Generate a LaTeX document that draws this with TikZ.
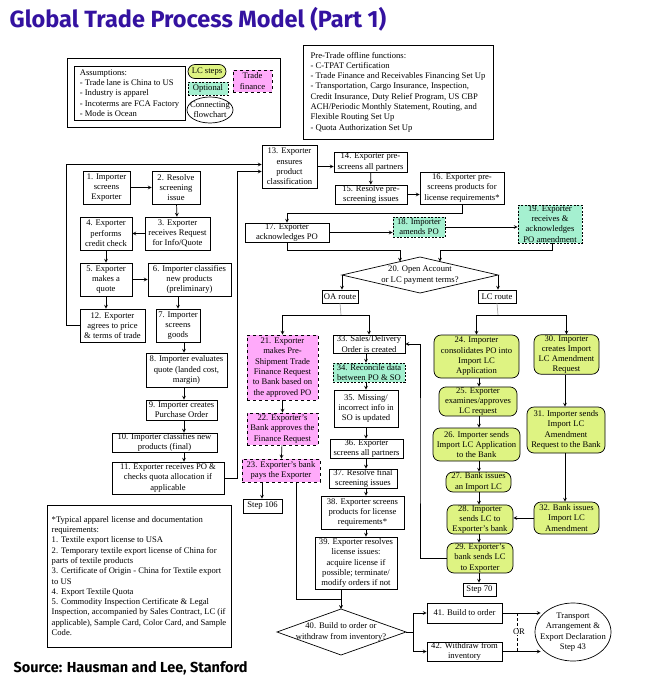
\documentclass[tikz,border=0pt]{standalone}
\usepackage{fontspec}
\setmainfont{Liberation Serif}
\newfontfamily\headfont{Fira Sans}
\usetikzlibrary{shapes.geometric}
\definecolor{lcgreen}{RGB}{222,243,130}
\definecolor{tfpink}{RGB}{255,170,250}
\definecolor{optcyan}{RGB}{165,240,208}
\definecolor{titleviolet}{RGB}{52,18,160}
\def\boxfont{\fontsize{8.6}{10.3}\selectfont}

\begin{document}
\begin{tikzpicture}[x=1pt,y=-1pt,->,>=stealth,line width=0.7pt]
		\tikzstyle{proc}=[draw,rectangle,align=center,inner sep=0.5pt,font=\boxfont,fill=white]
		\tikzstyle{lcproc}=[proc,rounded corners=7pt,fill=lcgreen]
		\tikzstyle{tfproc}=[proc,dashed,fill=tfpink]
		\tikzstyle{optproc}=[proc,dash pattern=on 2pt off 1.5pt,fill=optcyan]
		\tikzstyle{note}=[draw,align=left,inner sep=2pt,font=\boxfont]
		\tikzstyle{connector}=[draw,ellipse,align=center,font=\boxfont,fill=white]
		\tikzstyle{gray link}=[-,draw=black!35]
		\useasboundingbox (0,0) rectangle (659,686);

		% Title and source
		\node[anchor=west,font=\headfont\bfseries\fontsize{23.5}{28}\selectfont,text=titleviolet] (title) at (6,19) {Global Trade Process Model (Part 1)};
		\node[anchor=west,font=\headfont\bfseries\fontsize{14.5}{17}\selectfont] (source) at (10,668) {Source: Hausman and Lee, Stanford};

		% Legend
		\node[draw,minimum width=213,minimum height=69] (legend) at (173.5,92.5) {};
		\node[note,minimum width=111,minimum height=54] (assume) at (129.5,93) {Assumptions:\\- Trade lane is China to US\\- Industry is apparel\\- Incoterms are FCA Factory\\- Mode is Ocean};
		\node[lcproc,minimum width=38,minimum height=14] (key-lc) at (207,71.5) {LC steps};
		\node[optproc,minimum width=40,minimum height=13] (key-opt) at (208,88.5) {Optional};
		\node[tfproc,minimum width=39,minimum height=22] (key-tf) at (252.5,81) {Trade\\finance};
		\node[connector,inner xsep=-6pt,inner ysep=-3pt,minimum width=46,minimum height=26] (key-conn) at (210,110) {Connecting\\flowchart};
		\node[note,minimum width=190,minimum height=94] (pretrade) at (398,92) {Pre-Trade offline functions:\\- C-TPAT Certification\\- Trade Finance and Receivables Financing Set Up\\- Transportation, Cargo Insurance, Inspection,\\Credit Insurance, Duty Relief Program, US CBP\\ACH/Periodic Monthly Statement, Routing, and\\Flexible Routing Set Up\\- Quota Authorization Set Up};
		\node[note,minimum width=184,minimum height=142] (footnote) at (139,576) {*Typical apparel license and documentation\\requirements:\\1. Textile export license to USA\\2. Temporary textile export license of China for\\parts of textile products\\3. Certificate of Origin - China for Textile export\\to US\\4. Export Textile Quota\\5. Commodity Inspection Certificate \& Legal\\Inspection, accompanied by Sales Contract, LC (if\\applicable), Sample Card, Color Card, and Sample\\Code.};

		% Draw the screening and quote steps
		\node[proc,minimum width=47,minimum height=33] (step1) at (106.5,187.5) {1. Importer\\screens\\Exporter};
		\node[proc,minimum width=48,minimum height=33] (step2) at (176,187.5) {2. Resolve\\screening\\issue};
		\node[proc,minimum width=65,minimum height=33] (step3) at (177.5,233.5) {3. Exporter\\receives Request\\for Info/Quote};
		\node[proc,minimum width=52,minimum height=33] (step4) at (106,233.5) {4. Exporter\\performs\\credit check};
		\node[proc,minimum width=52,minimum height=33] (step5) at (106,279.5) {5. Exporter\\makes a\\quote};
		\node[proc,minimum width=83,minimum height=33] (step6) at (189.5,279.5) {6. Importer classifies\\new products\\(preliminary)};
		\node[proc,minimum width=65,minimum height=33] (step12) at (112.5,325.5) {12. Exporter\\agrees to price\\\& terms of trade};
		\node[proc,minimum width=44,minimum height=33] (step7) at (178,325.5) {7. Importer\\screens\\goods};
		\node[proc,minimum width=81,minimum height=34] (step8) at (186.5,370) {8. Importer evaluates\\quote (landed cost,\\margin)};
		\node[proc,minimum width=71,minimum height=20] (step9) at (181.5,410) {9. Importer creates\\Purchase Order};
		\node[proc,minimum width=105,minimum height=19] (step10) at (164.5,442.5) {10. Importer classifies new\\products (final)};
		\node[proc,minimum width=112,minimum height=32] (step11) at (168,478) {11. Exporter receives PO \&\\checks quota allocation if\\applicable};

		% Draw the pre-screening steps
		\node[proc,minimum width=55,minimum height=43] (step13) at (289.5,166.5) {13. Exporter\\ensures\\product\\classification};
		\node[proc,minimum width=73,minimum height=20] (step14) at (370.5,162) {14. Exporter pre-\\screens all partners};
		\node[proc,minimum width=72,minimum height=19] (step15) at (371,194.5) {15. Resolve pre-\\screening issues};
		\node[proc,minimum width=84,minimum height=32] (step16) at (462,188) {16. Exporter pre-\\screens products for\\license requirements*};
		\node[proc,minimum width=84,minimum height=19] (step17) at (287,232.5) {17. Exporter\\acknowledges PO};
		\node[optproc,minimum width=52,minimum height=20] (step18) at (419,227) {18. Importer\\amends PO};
		\node[optproc,minimum width=64,minimum height=38] (step19) at (550,224) {19. Exporter\\receives \&\\acknowledges\\PO amendment};

		% Draw the payment terms decision
		\coordinate (d20-n) at (420,257);
		\coordinate (d20-e) at (498,275);
		\coordinate (d20-s) at (420,293);
		\coordinate (d20-w) at (342,275);
		\coordinate (d20-a) at (400,261.6);
		\coordinate (d20-b) at (440,261.6);
		\draw[-,fill=white] (d20-n) -- (d20-e) -- (d20-s) -- (d20-w) -- cycle;
		\node[align=center,font=\boxfont,inner sep=0pt] (d20) at (420,275) {20. Open Account\\or LC payment terms?};
		\node[proc,minimum width=36,minimum height=13] (oa) at (340,296.5) {OA route};
		\node[proc,minimum width=38,minimum height=13] (lc) at (497,296.5) {LC route};

		% Draw the OA route steps
		\node[tfproc,minimum width=71,minimum height=65] (step21) at (282.5,367.5) {21. Exporter\\makes Pre-\\Shipment Trade\\Finance Request\\to Bank based on\\the approved PO};
		\node[tfproc,minimum width=71,minimum height=32] (step22) at (282.5,429) {22. Exporter's\\Bank approves the\\Finance Request};
		\node[tfproc,minimum width=78,minimum height=23] (step23) at (281,470.5) {23. Exporter's bank\\pays the Exporter};
		\node[proc,minimum width=39,minimum height=14] (step106) at (262.5,506) {Step 106};
		\node[proc,minimum width=72,minimum height=18] (step33) at (369,344) {33. Sales/Delivery\\Order is created};
		\node[optproc,minimum width=72,minimum height=19] (step34) at (369,372.5) {34. Reconcile data\\between PO \& SO};
		\node[proc,minimum width=64,minimum height=37] (step35) at (366,408.5) {35. Missing/\\incorrect info in\\SO is updated};
		\node[proc,minimum width=73,minimum height=19] (step36) at (366.5,448.5) {36. Exporter\\screens all partners};
		\node[proc,minimum width=68,minimum height=19] (step37) at (363,478.5) {37. Resolve final\\screening issues};
		\node[proc,minimum width=83,minimum height=33] (step38) at (362.5,512.5) {38. Exporter screens\\products for license\\requirements*};
		\node[proc,minimum width=82,minimum height=52] (step39) at (356,563) {39. Exporter resolves\\license issues:\\acquire license if\\possible; terminate/\\modify orders if not};

		% Draw the LC route steps
		\node[lcproc,minimum width=85,minimum height=43] (step24) at (476.5,356.5) {24. Importer\\consolidates PO into\\Import LC\\Application};
		\node[lcproc,minimum width=78,minimum height=29] (step25) at (478,401.5) {25. Exporter\\examines/approves\\LC request};
		\node[lcproc,minimum width=87,minimum height=33] (step26) at (476.5,444.5) {26. Importer sends\\Import LC Application\\to the Bank};
		\node[lcproc,minimum width=65,minimum height=20] (step27) at (478.5,482) {27. Bank issues\\an Import LC};
		\node[lcproc,minimum width=66,minimum height=29] (step28) at (480,519.5) {28. Importer\\sends LC to\\Exporter's bank};
		\node[lcproc,minimum width=66,minimum height=30] (step29) at (480,558) {29. Exporter's\\bank sends LC\\to Exporter};
		\node[proc,minimum width=33,minimum height=13] (step70) at (479.5,589.5) {Step 70};
		\node[lcproc,minimum width=65,minimum height=39] (step30) at (566.5,354.5) {30. Importer\\creates Import\\LC Amendment\\Request};
		\node[lcproc,minimum width=78,minimum height=46] (step31) at (566,430) {31. Importer sends\\Import LC\\Amendment\\Request to the Bank};
		\node[lcproc,minimum width=65,minimum height=32] (step32) at (566.5,518) {32. Bank issues\\Import LC\\Amendment};

		% Draw the build decision
		\coordinate (d40-n) at (341,609);
		\coordinate (d40-e) at (406,632);
		\coordinate (d40-s) at (341,655);
		\coordinate (d40-w) at (277,632);
		\draw[-,fill=white] (d40-n) -- (d40-e) -- (d40-s) -- (d40-w) -- cycle;
		\node[align=center,font=\boxfont,inner sep=0pt] (d40) at (341,632) {40. Build to order or\\withdraw from inventory?};
		\node[proc,minimum width=75,minimum height=20] (step41) at (464.5,613) {41. Build to order};
		\node[proc,minimum width=75,minimum height=19] (step42) at (464.5,651.5) {42. Withdraw from\\inventory};
		\node[connector,inner xsep=-9pt,inner ysep=-2pt,minimum width=76,minimum height=58] (step43) at (573,632) {Transport\\Arrangement \&\\Export Declaration\\Step 43};

		% Bend points
		\coordinate (loopL) at (66,0);
		\coordinate (loopR) at (237,0);
		\coordinate (col8) at (184,0);
		\coordinate (col33) at (366,0);
		\coordinate (col24) at (479,0);
		\coordinate (col30) at (565,0);
		\coordinate (bend16) at (0,213);
		\coordinate (bend20) at (0,250);
		\coordinate (oasplit) at (341,315);
		\coordinate (lcsplit) at (498,315);
		\coordinate (ret33) at (420,450);
		\coordinate (join40) at (341,599);
		\coordinate (fork40) at (413,632);
		\coordinate (orline) at (517,0);

		% Connect the screening and quote steps
		\draw (step1) -- (step2);
		\draw (step2) -- (step3);
		\draw (step3) -- (step4);
		\draw (step4) -- (step5);
		\draw (step5) -- (step6);
		\draw (step5.south) -- (step5.south |- step12.north);
		\draw (step7.north |- step6.south) -- (step7.north);
		\draw (step7.south -| col8) -- (step8.north -| col8);
		\foreach \a/\b in {8/9,9/10,10/11}
		\draw (step\a.south -| col8) -- (step\b.north -| col8);
		\draw (step12.west) -- (step12.west -| loopL) |- ([yshift=2pt]step13.west);
		\draw (step11.east) -- (step11.east -| loopR) |- ([yshift=-5pt]step13.west);

		% Connect the pre-screening steps
		\draw (step13.east) -- (step13.east -| step14.west);
		\draw (step14) -- (step15);
		\draw (step15.east) -- (step15.east -| step16.west);
		\draw (step16.south) |- (step17.north |- bend16) -- (step17.north);
		\draw (step17.east) -- (step17.east -| step18.west);
		\draw (step18.east) -- (step18.east -| step19.west);
		\draw (step17.south) |- (d20-a |- bend20) -- (d20-a);
		\draw ([xshift=2pt]step19.south) |- (d20-b |- bend20) -- (d20-b);
		\draw (d20-w) -- (d20-w |- oa.north);
		\draw (d20-e) -- (d20-e |- lc.north);

		% Connect the OA route steps
		\draw[gray link] (oa.south) -- (oasplit);
		\draw (oasplit) -| (step21.north);
		\draw (oasplit) -| (step33.north);
		\draw (step21) -- (step22);
		\draw (step22) -- (step23);
		\draw ([xshift=-19pt]step23.south) -- ([xshift=-19pt]step23.south |- step106.north);
		\draw[-] ([xshift=15pt]step23.south) |- (join40);
		\foreach \a/\b in {33/34,34/35,35/36,36/37,37/38,38/39}
		\draw (step\a.south -| col33) -- (step\b.north -| col33);
		\draw (step39.south -| d40-n) -- (d40-n);

		% Connect the LC route steps
		\draw[gray link] (lc.south) -- (lcsplit);
		\draw (lcsplit) -| (step24.north);
		\draw (lcsplit) -| (step30.north);
		\foreach \a/\b in {24/25,25/26,26/27,27/28,28/29,29/70}
		\draw (step\a.south -| col24) -- (step\b.north -| col24);
		\foreach \a/\b in {30/31,31/32}
		\draw (step\a.south -| col30) -- (step\b.north -| col30);
		\draw (step32.west) -- (step32.west -| step28.east);
		\draw (step29.west) -| (ret33) |- (step33.east);

		% Connect the build decision
		\draw (d40-e) -- (fork40) |- (step41.west);
		\draw (fork40) |- (step42.west);
		\draw (step41.east) -- ([xshift=6pt]step41.east -| step43.west);
		\draw (step42.east) -- ([xshift=6pt]step42.east -| step43.west);
		\draw[-,dash pattern=on 3pt off 2pt] (step41.east -| orline) -- (step42.east -| orline);
		\node[fill=white,inner sep=0.5pt,font=\boxfont] (or) at (519,632) {OR};
	\end{tikzpicture}
\end{document}
